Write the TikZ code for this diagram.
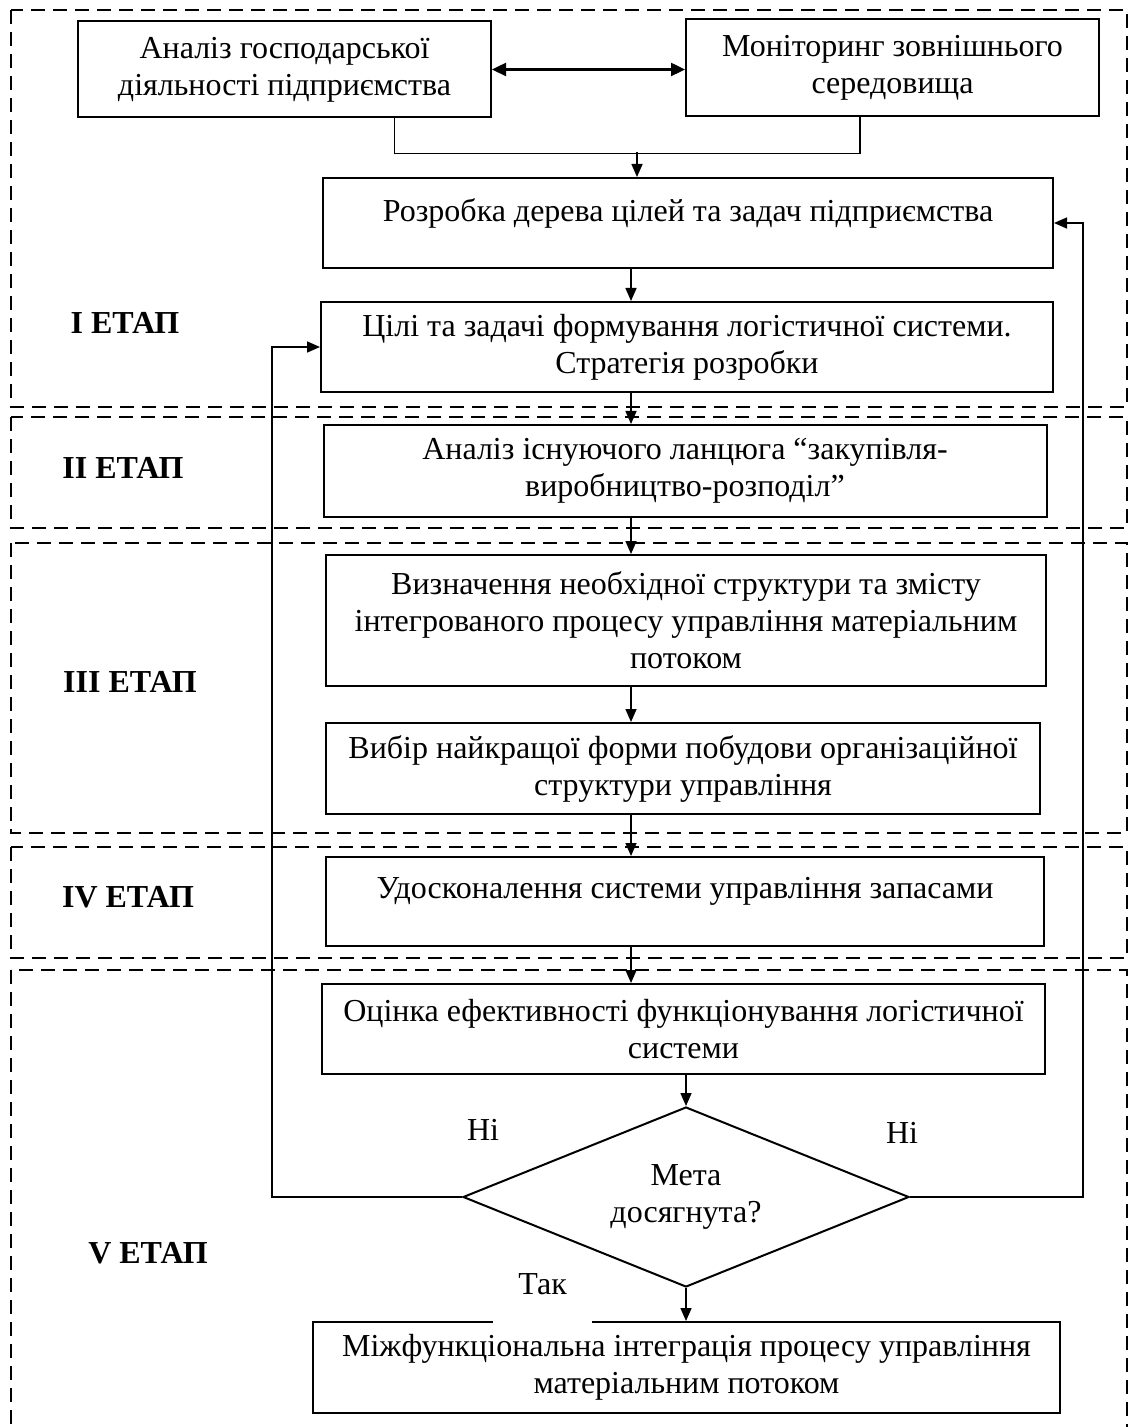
\documentclass[tikz,border=0pt]{standalone}
\usepackage{fontspec}
\setmainfont{Liberation Serif}
\usetikzlibrary{arrows.meta,shapes.geometric}
\tikzset{blk/.style={draw,line width=1pt,align=center,inner sep=2pt,font=\fontsize{16}{18.5}\selectfont},dia/.style={blk,diamond,aspect=2.5,inner sep=0pt},
stg/.style={line width=1.2pt,dash pattern=on 7pt off 4pt},arr/.style={-{Triangle[length=6.5pt,width=5.5pt]},line width=0.8pt},
dbl/.style={{Triangle[length=7pt,width=6.5pt]}-{Triangle[length=7pt,width=6.5pt]},line width=1.2pt},
lbl/.style={font=\fontsize{16}{18.5}\selectfont},etap/.style={font=\fontsize{16}{18.5}\selectfont\bfseries}}
\begin{document}
\begin{tikzpicture}[x=0.5pt,y=-0.5pt]
\useasboundingbox(0,0)rectangle(1129,1427);\clip(0,0)rectangle(1129,1427);
\foreach\t/\b in{10/407,417/528,543/833,847/958,970/1460}\draw[stg](11,\t)rectangle(1127,\b);
\node[blk,minimum width=206.5pt,minimum height=48pt](an)at(284.5,69.5){Аналіз господарської\\діяльності підприємства};
\node[blk,minimum width=206.5pt,minimum height=48.5pt](mon)at(892.5,67.5){Моніторинг зовнішнього\\середовища};
\node[blk,minimum width=365pt,minimum height=45pt](dt)at(688,223){\raisebox{5pt}[\height][\depth]{Розробка дерева цілей та задач підприємства}};
\node[blk,minimum width=366pt,minimum height=45pt](cz)at(687,347){Цілі та задачі формування логістичної системи.\\Стратегія розробки};
\node[blk,minimum width=361.5pt,minimum height=46pt](lc)at(685,471){Аналіз існуючого ланцюга “закупівля-\\виробництво-розподіл”};
\node[blk,minimum width=360pt,minimum height=65.5pt](str)at(686,620.5){Визначення необхідної структури та змісту\\інтегрованого процесу управління матеріальним\\потоком};
\node[blk,minimum width=357pt,minimum height=45.5pt](org)at(683,768.5){Вибір найкращої форми побудови організаційної\\структури управління};
\node[blk,minimum width=359pt,minimum height=44.5pt](zap)at(685,901.5){\raisebox{5pt}[\height][\depth]{Удосконалення системи управління запасами}};
\node[blk,minimum width=361.5pt,minimum height=45pt](oc)at(683.5,1029){Оцінка ефективності функціонування логістичної\\системи};
\node[dia,minimum width=223pt,minimum height=90pt](ch)at(686,1197){Мета\\досягнута?};
\node[blk,minimum width=373.5pt,minimum height=45.5pt](mi)at(686.5,1367.5){Міжфункціональна інтеграція процесу управління\\матеріальним потоком};
\foreach\n/\nm/\x/\y in{e1/I/125/323,e2/II/123/468,e3/III/130/682,e4/IV/128/897,e5/V/148/1253}\node[etap](\n)at(\x,\y){{\nm} ЕТАП};
\draw[dbl](an.east)--(an.east-|mon.west);
\draw[line width=0.6pt]([xshift=55pt]an.south)--++(0,35)-|([xshift=-16.25pt]mon.south);
\coordinate(mj)at(637,152);\coordinate(col)at(631,0);
\draw[arr](mj)--(mj|-dt.north);
\foreach\a/\b in{dt/cz,cz/lc,lc/str,str/org,org/zap,zap/oc}\draw[arr](\a.south-|col)--(\b.north-|col);
\draw[arr](oc.south-|ch)--(ch);
\draw[arr](ch.south)--(mi.north-|ch.south);
\draw[arr](ch.west)--++(-190,0)|-(cz.west);
\draw[arr](ch.east)--++(173,0)|-(dt.east);
\node[lbl](n1)at(483,1130){Ні};\node[lbl](n2)at(902,1133){Ні};
\node[lbl,fill=white,minimum width=49.5pt,minimum height=31pt,anchor=south](tak)at(542.5,1324){\raisebox{4pt}[\height][\depth]{Так}};
\end{tikzpicture}
\end{document}
